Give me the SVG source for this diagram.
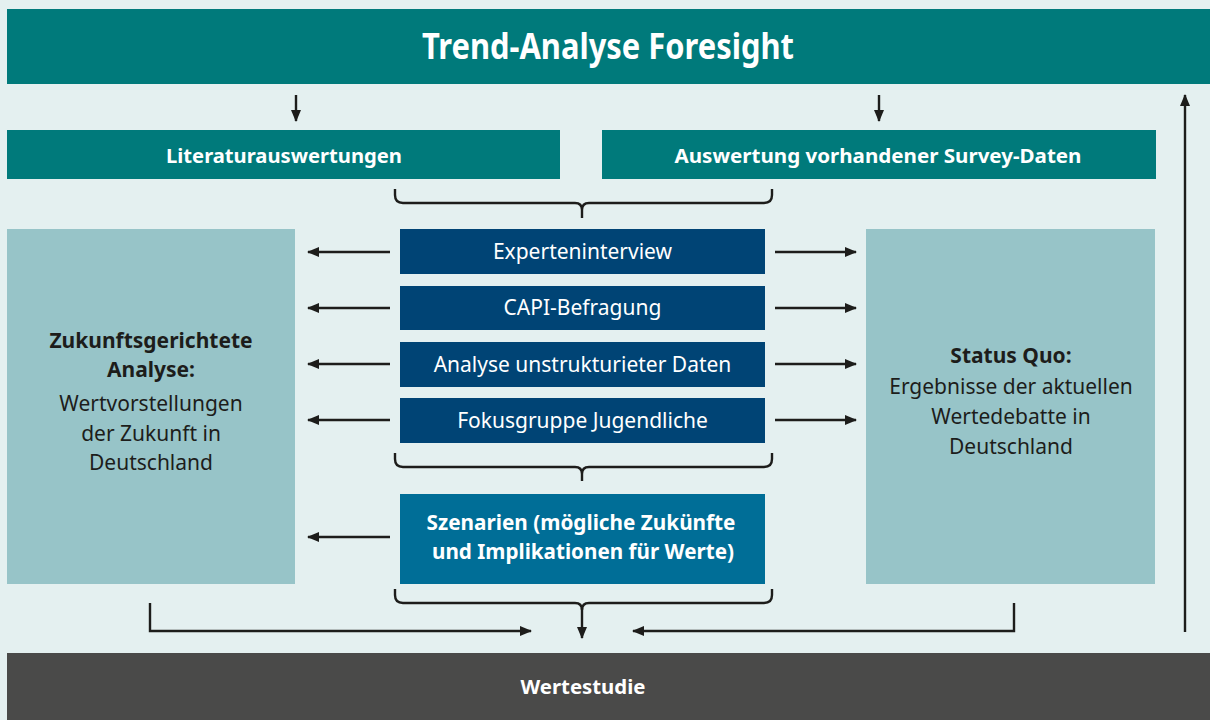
<svg xmlns="http://www.w3.org/2000/svg" width="1210" height="720" viewBox="0 0 1210 720">
<defs>
<style>
.bg{fill:#e4f0f0}
.teal{fill:#007a7b}
.light{fill:#97c4c8}
.dblue{fill:#004475}
.mblue{fill:#006e97}
.dark{fill:#4a4a49}
.tw{fill:#ffffff;font-family:"Noto Sans","Open Sans",sans-serif;text-anchor:middle}
.tb{fill:#1d1d1b;font-family:"Noto Sans","Open Sans",sans-serif;text-anchor:middle}
.b{font-weight:700}
.ln{fill:none;stroke:#1d1d1b;stroke-width:2.4}
.ar{fill:none;stroke:#1d1d1b;stroke-width:2.4;marker-end:url(#ah)}
</style>
<marker id="ah" viewBox="0 0 12 10" refX="11" refY="5" markerWidth="12" markerHeight="10" markerUnits="userSpaceOnUse" orient="auto">
<path d="M0,0 L12,5 L0,10 Z" fill="#1d1d1b"/>
</marker>
</defs>
<rect class="bg" x="0" y="0" width="1210" height="720"/>

<g id="trend-analyse">
<rect class="teal" x="7" y="9" width="1203" height="75"/>
<text class="tw b" x="608" y="59" font-size="35" textLength="372" lengthAdjust="spacingAndGlyphs">Trend-Analyse Foresight</text>
</g>

<g id="literaturauswertungen">
<rect class="teal" x="7" y="130" width="553" height="49"/>
<text class="tw b" x="284" y="163" font-size="20" textLength="236" lengthAdjust="spacingAndGlyphs">Literaturauswertungen</text>
</g>

<g id="survey-daten">
<rect class="teal" x="602" y="130" width="554" height="49"/>
<text class="tw b" x="878" y="163" font-size="20" textLength="407" lengthAdjust="spacingAndGlyphs">Auswertung vorhandener Survey-Daten</text>
</g>

<g id="zukunftsgerichtete-analyse">
<rect class="light" x="7" y="229" width="288" height="355"/>
<text class="tb" font-size="21"><tspan class="b" x="151" y="348">Zukunftsgerichtete</tspan><tspan class="b" x="151" y="377">Analyse:</tspan><tspan x="151" y="411">Wertvorstellungen</tspan><tspan x="151" y="441">der Zukunft in</tspan><tspan x="151" y="470">Deutschland</tspan></text>
</g>

<g id="status-quo">
<rect class="light" x="866" y="229" width="289" height="355"/>
<text class="tb" font-size="21"><tspan class="b" x="1011" y="363">Status Quo:</tspan><tspan x="1011" y="394">Ergebnisse der aktuellen</tspan><tspan x="1011" y="424">Wertedebatte in</tspan><tspan x="1011" y="454">Deutschland</tspan></text>
</g>

<g id="experteninterview">
<rect class="dblue" x="400" y="229" width="365" height="45"/>
<text class="tw" x="582.5" y="258.5" font-size="21">Experteninterview</text>
</g>
<g id="capi-befragung">
<rect class="dblue" x="400" y="286" width="365" height="44"/>
<text class="tw" x="582.5" y="315" font-size="21">CAPI-Befragung</text>
</g>
<g id="analyse-unstrukturierter-daten">
<rect class="dblue" x="400" y="342" width="365" height="45"/>
<text class="tw" x="582.5" y="371.5" font-size="21">Analyse unstrukturieter Daten</text>
</g>
<g id="fokusgruppe">
<rect class="dblue" x="400" y="398" width="365" height="45"/>
<text class="tw" x="582.5" y="427.5" font-size="21">Fokusgruppe Jugendliche</text>
</g>

<g id="szenarien">
<rect class="mblue" x="400" y="494" width="365" height="90"/>
<text class="tw b" font-size="22"><tspan x="581" y="530" textLength="309" lengthAdjust="spacingAndGlyphs">Szenarien (mögliche Zukünfte</tspan><tspan x="583" y="559" textLength="302" lengthAdjust="spacingAndGlyphs">und Implikationen für Werte)</tspan></text>
</g>

<g id="wertestudie">
<rect class="dark" x="7" y="653" width="1203" height="67"/>
<text class="tw b" x="583" y="694" font-size="20" textLength="125" lengthAdjust="spacingAndGlyphs">Wertestudie</text>
</g>

<g id="connectors">
<line class="ar" x1="296" y1="95" x2="296" y2="121"/>
<line class="ar" x1="879" y1="95" x2="879" y2="121"/>
<path class="ln" d="M395,189 V195 Q395,203 403,203 H575 Q582,203 582,210 V218 M582,210 Q582,203 589,203 H764 Q772,203 772,195 V189"/>
<line class="ar" x1="390" y1="252" x2="308" y2="252"/>
<line class="ar" x1="390" y1="308" x2="308" y2="308"/>
<line class="ar" x1="390" y1="364" x2="308" y2="364"/>
<line class="ar" x1="390" y1="420" x2="308" y2="420"/>
<line class="ar" x1="390" y1="537" x2="308" y2="537"/>
<line class="ar" x1="775" y1="252" x2="856" y2="252"/>
<line class="ar" x1="775" y1="308" x2="856" y2="308"/>
<line class="ar" x1="775" y1="364" x2="856" y2="364"/>
<line class="ar" x1="775" y1="420" x2="856" y2="420"/>
<path class="ln" d="M395,453 V459 Q395,467 403,467 H575 Q582,467 582,474 V481 M582,474 Q582,467 589,467 H764 Q772,467 772,459 V453"/>
<path class="ln" d="M395,589 V595 Q395,603 403,603 H575 Q582,603 582,610 M582,610 Q582,603 589,603 H764 Q772,603 772,595 V589"/>
<line class="ar" x1="582" y1="608" x2="582" y2="638"/>
<path class="ar" d="M150,603 V631 H531"/>
<path class="ar" d="M1014,603 V631 H633"/>
<line class="ar" x1="1185" y1="632" x2="1185" y2="95"/>
</g>
</svg>
